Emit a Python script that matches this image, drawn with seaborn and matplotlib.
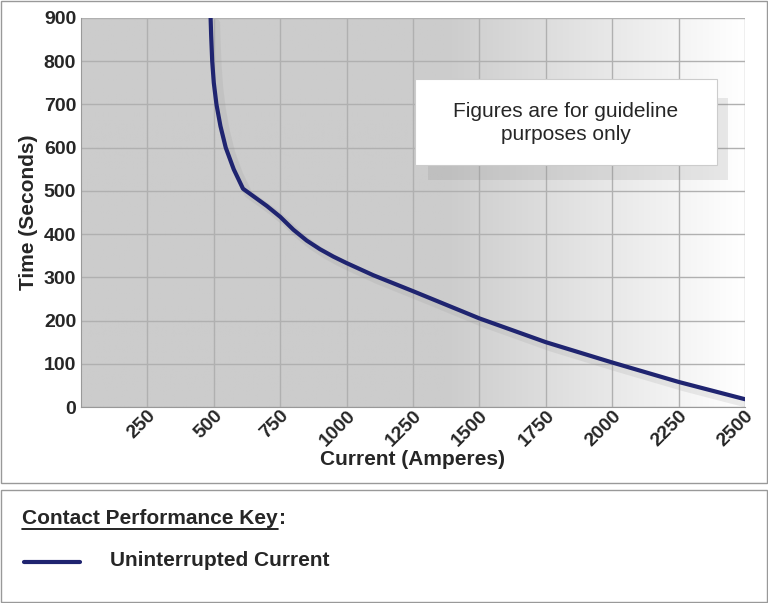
import numpy as np
import matplotlib
matplotlib.use("Agg")
import matplotlib.pyplot as plt
import seaborn as sns
import pandas as pd
from matplotlib.patches import Rectangle
from matplotlib.lines import Line2D

current = [488, 490, 494, 500, 510, 525, 545, 575, 610, 655, 700, 750, 800, 850, 900, 950, 1000, 1100, 1250, 1500, 1750, 2000, 2250, 2500]
time_s  = [900, 860, 800, 750, 700, 650, 600, 550, 505, 485, 465, 440, 410, 385, 365, 348, 333, 305, 268, 205, 150, 103, 58, 18]
xticks = [250, 500, 750, 1000, 1250, 1500, 1750, 2000, 2250, 2500]
yticks = [0, 100, 200, 300, 400, 500, 600, 700, 800, 900]
df = pd.DataFrame({"Current": current, "Time": time_s})

sns.set_style("white")
plt.rcParams['font.family'] = ['Liberation Sans', 'DejaVu Sans']
fig = plt.figure(figsize=(7.68, 6.03), dpi=100)
W, H = 768, 603
fig.patches.append(Rectangle((1/W, 1-483/H), 766/W, 482/H, transform=fig.transFigure, fill=False, ec="#999999", lw=1))
fig.patches.append(Rectangle((1/W, 1/H), 766/W, 112/H, transform=fig.transFigure, fill=False, ec="#999999", lw=1))

ax = fig.add_axes([81/W, 1-407/H, 664/W, 389/H])
grad = np.linspace(0, 1, 256)
cols = np.clip((grad - 0.55) / 0.45, 0, 1)
shade = 0.80 + 0.2 * cols
img = np.dstack([shade, shade, shade])
img = np.repeat(img, 2, axis=0)
ax.imshow(img, extent=[0, 2500, 0, 900], aspect="auto", zorder=0)
ax.set_xlim(0, 2500); ax.set_ylim(0, 900)
ax.set_xticks(xticks); ax.set_yticks(yticks)
ax.grid(True, color="#b0b0b0", lw=1, zorder=1)
for s in ax.spines.values():
    s.set_visible(False)
ax.spines['left'].set_visible(True); ax.spines['bottom'].set_visible(True)
ax.spines['left'].set_color("#999999"); ax.spines['bottom'].set_color("#999999")
ax.plot(np.array(current)+20, np.array(time_s)-12, color="#999999", lw=6, alpha=0.18, zorder=2, solid_capstyle="round")
sns.lineplot(data=df, x="Current", y="Time", ax=ax, color="#1f2470", lw=3, zorder=3, sort=False)
ax.set_xlabel("Current (Amperes)", fontsize=15, fontweight="bold", labelpad=0)
ax.set_ylabel("Time (Seconds)", fontsize=15, fontweight="bold", labelpad=4)
ax.tick_params(axis='x', labelsize=14, rotation=45, pad=0, length=0)
ax.tick_params(axis='y', labelsize=14, length=0)
for l in ax.get_xticklabels():
    l.set_fontweight("bold"); l.set_ha("right"); l.set_rotation_mode("anchor"); l.set_va("top")
for l in ax.get_yticklabels():
    l.set_fontweight("bold")

fig.patches.append(Rectangle((428/W, 1-180/H), 300/W, 82/H, transform=fig.transFigure, fc="#888888", ec="none", alpha=0.18))
fig.patches.append(Rectangle((415/W, 1-165/H), 302/W, 86/H, transform=fig.transFigure, fc="white", ec="#cccccc", lw=0.8))
fig.text(566/W, 1-123/H, "Figures are for guideline\npurposes only", ha="center", va="center", fontsize=15, linespacing=1.3)

t = fig.text(22/W, 1-518/H, "Contact Performance Key", fontsize=15, fontweight="bold", va="center")
fig.canvas.draw()
bb = t.get_window_extent()
x1 = bb.x1 / W
fig.lines.append(Line2D([22/W, x1], [1-529/H, 1-529/H], transform=fig.transFigure, color="black", lw=1.2))
fig.text(x1 + 1/W, 1-518/H, ":", fontsize=15, fontweight="bold", va="center")
fig.lines.append(Line2D([24/W, 80/W], [1-562/H, 1-562/H], transform=fig.transFigure, color="#1f2470", lw=3))
fig.text(110/W, 1-561/H, "Uninterrupted Current", fontsize=15, fontweight="bold", va="center")
fig.savefig("out.png", dpi=100)
